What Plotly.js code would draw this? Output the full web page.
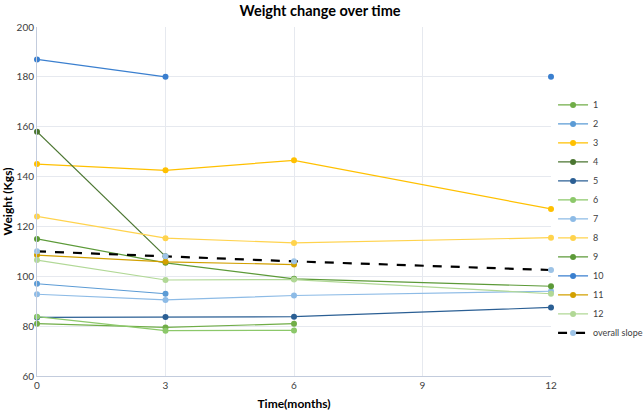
<!DOCTYPE html>
<html>
<head>
<meta charset="utf-8">
<script src="https://cdn.plot.ly/plotly-3.0.1.min.js"></script>
<style>html,body{margin:0;padding:0;background:#fff;}#chart{width:644px;height:415px;}</style>
</head>
<body>
<div id="chart"></div>
<script>
const months = [0, 3, 6, 12];
const seriesNames = ["1","2","3","4","5","6","7","8","9","10","11","12"];
const s1  = [81, 79.5, 81, null];
const s2  = [97, 93, null, null];
const s3  = [145, 142.5, 146.5, 127];
const s4  = [158, 108, null, null];
const s5  = [83.5, 83.7, 83.8, 87.5];
const s6  = [83.8, 78.2, 78.3, null];
const s7  = [92.8, 90.5, 92.3, 94];
const s8  = [124, 115.3, 113.4, 115.5];
const s9  = [115, 105.4, 99, 96];
const s10 = [187, 180, null, 180];
const s11 = [108.5, 105.8, 104.7, null];
const s12 = [106.5, 98.5, 98.7, 93];
const overallSlope = [110, 108, 106, 102.5];
const overallName = "overall slope";
const seriesValues = [s1,s2,s3,s4,s5,s6,s7,s8,s9,s10,s11,s12];
const colors = ["#70AD47","#5B9BD5","#FFC000","#4A7530","#2B5F94","#8CC86A","#8DBBE6","#FFD34D","#5C9A38","#3A7FCF","#D2A000","#B1D896"];

const traces = seriesValues.map((v, i) => ({
  x: months, y: v, name: seriesNames[i], type: "scatter", mode: "lines+markers",
  line: {color: colors[i], width: 1.2},
  marker: {color: colors[i], size: 6},
  connectgaps: false,
  cliponaxis: false
}));
traces.push({
  x: months, y: overallSlope, name: overallName, type: "scatter", mode: "lines+markers",
  line: {color: "#000000", width: 2.2, dash: "dash"},
  marker: {color: "#9DC3E6", size: 6},
  cliponaxis: false
});

const layout = {
  width: 644, height: 415,
  margin: {l: 37, r: 93, t: 27, b: 39, autoexpand: false},
  paper_bgcolor: "#ffffff", plot_bgcolor: "#ffffff",
  font: {family: "Lato, 'Open Sans', sans-serif", color: "#595959", size: 10},
  title: {text: "<b>Weight change over time</b>", x: 0.497, xanchor: "center", y: 0.985, yanchor: "top",
          font: {family: "Lato, 'Open Sans', sans-serif", size: 14.5, color: "#000000"}},
  xaxis: {
    range: [0, 12], tickvals: [0, 3, 6, 9, 12], ticktext: ["0","3","6","9","12"],
    showgrid: true, gridcolor: "#E6E9EF", gridwidth: 1, zeroline: false,
    showline: true, linecolor: "#C3CCDD", linewidth: 1, ticks: "",
    tickfont: {size: 10, color: "#404040"},
    title: {text: "<b>Time(months)</b>", standoff: 9, font: {size: 12, color: "#000000"}}
  },
  yaxis: {
    range: [60, 200], tickvals: [60, 80, 100, 120, 140, 160, 180, 200],
    showgrid: true, gridcolor: "#E6E9EF", gridwidth: 1, zeroline: false,
    showline: true, linecolor: "#C3CCDD", linewidth: 1, ticks: "",
    tickfont: {size: 10, color: "#404040"},
    title: {text: "<b>Weight (Kgs)</b>", standoff: 6, font: {size: 12, color: "#000000"}}
  },
  showlegend: true,
  legend: {x: 1.004, xanchor: "left", y: 0.45, yanchor: "middle",
           font: {size: 9, color: "#404040"}, bgcolor: "rgba(0,0,0,0)", tracegroupgap: 0}
};
Plotly.newPlot("chart", traces, layout, {displayModeBar: false, staticPlot: true});
</script>
</body>
</html>
